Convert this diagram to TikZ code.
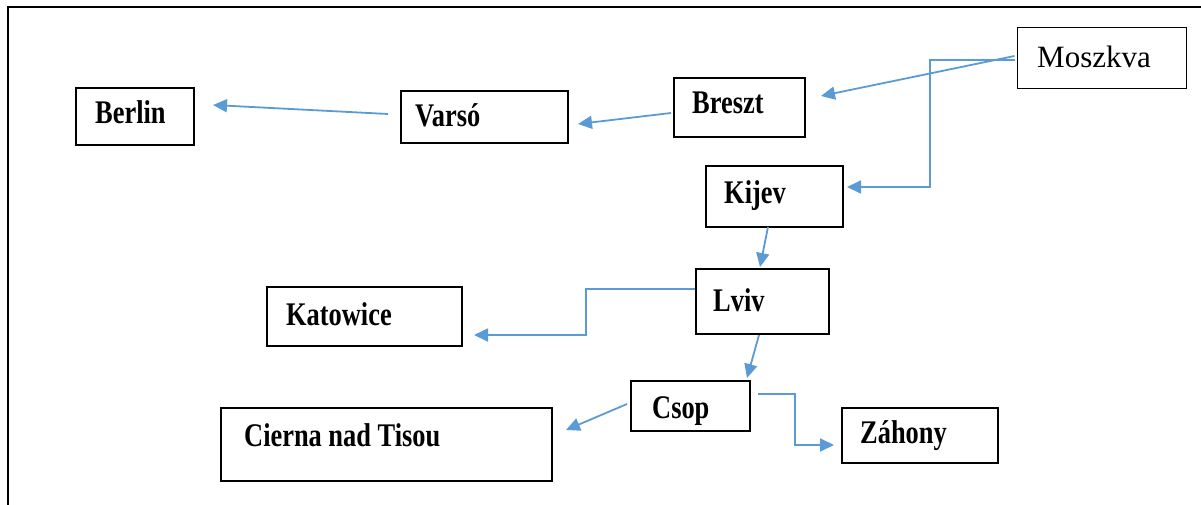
\documentclass[tikz,border=0pt]{standalone}
\usepackage{fontspec}
\newfontfamily\cityfont[FakeStretch=0.8]{Liberation Serif}
\newfontfamily\mosfont{Liberation Serif}
\usetikzlibrary{arrows.meta,calc}
\definecolor{linkblue}{HTML}{5B9BD5}
\tikzset{
  citybox/.style={draw=black, line width=2pt, inner sep=0pt, rectangle},
  thinbox/.style={draw=black, line width=1pt, inner sep=0pt, rectangle},
  citylabel/.style={anchor=base west, inner sep=0pt, font=\cityfont\bfseries\fontsize{33}{35}\selectfont},
  moslabel/.style={anchor=base west, inner sep=0pt, font=\mosfont\fontsize{31}{33}\selectfont},
  conn/.style={draw=linkblue, line width=1.8pt, -{Triangle[length=14pt,width=13pt]}},
  frame/.style={draw=black, line width=1.8pt}
}
\begin{document}
\begin{tikzpicture}[x=1pt,y=-1pt]
\useasboundingbox (0,0) rectangle (1201,505);
% outer frame
\coordinate (fbl) at (8,506);
\coordinate (ftl) at (8,7);
\coordinate (ftr) at (1202,7);
\draw[frame] (fbl) -- (ftl) -- (ftr);

% boxes
\node[citybox, minimum width=118pt, minimum height=57pt] (berlin) at (135,116.5) {};
\node[citybox, minimum width=167pt, minimum height=52pt] (varso) at (484.5,117) {};
\node[citybox, minimum width=131pt, minimum height=59pt] (breszt) at (739.5,107.5) {};
\node[thinbox, minimum width=169pt, minimum height=61pt] (moszkva) at (1101.5,58.5) {};
\node[citybox, minimum width=137pt, minimum height=61pt] (kijev) at (774.5,196.5) {};
\node[citybox, minimum width=133pt, minimum height=65pt] (lviv) at (762.5,301.5) {};
\node[citybox, minimum width=195pt, minimum height=59pt] (katowice) at (364.5,316.5) {};
\node[citybox, minimum width=119pt, minimum height=50pt] (csop) at (690.5,406) {};
\node[citybox, minimum width=156pt, minimum height=55pt] (zahony) at (920,435.5) {};
\node[citybox, minimum width=331pt, minimum height=73pt] (cierna) at (386.5,444.5) {};

% labels
\node[citylabel] (berlinT) at (95,124) {Berlin};
\node[citylabel] (varsoT) at (415,127) {Varsó};
\node[citylabel] (bresztT) at (692,114) {Breszt};
\node[moslabel] (moszkvaT) at (1037,68) {Moszkva};
\node[citylabel] (kijevT) at (724,204) {Kijev};
\node[citylabel] (lvivT) at (713,311) {Lviv};
\node[citylabel] (katowiceT) at (286,325) {Katowice};
\node[citylabel] (csopT) at (652,418) {Csop};
\node[citylabel] (ciernaT) at (244,446) {Cierna nad Tisou};
\node[citylabel] (zahonyT) at (860,443) {Záhony};

% connectors
\draw[conn] ($(moszkva.west)+(-2,-2.5)$) -- ($(breszt.east)+(15,-11.5)$);
\draw[conn] ($(moszkva.west)+(-2,1.5)$) -| ($(kijev.east)+(86,-9.5)$) -- ($(kijev.east)+(3,-9.5)$);
\draw[conn] ($(breszt.west)+(-2,5.5)$) -- ($(varso.east)+(9,7)$);
\draw[conn] ($(varso.west)+(-12,-3)$) -- ($(berlin.east)+(18,-11.5)$);
\draw[conn] ($(kijev.south)+(-6.5,-1)$) -- ($(lviv.north)+(-2.5,-1)$);
\draw[conn] ($(lviv.west)+(0,-12.5)$) -| ($(katowice.east)+(123,18.5)$) -- ($(katowice.east)+(11,18.5)$);
\draw[conn] ($(lviv.south)+(-3.5,0)$) -- ($(csop.north)+(56.5,-2)$);
\draw[conn] ($(csop.west)+(-3,-2)$) -- ($(cierna.east)+(13,-14.5)$);
\draw[conn] ($(csop.east)+(7,-12)$) -| ($(zahony.west)+(-46,9.5)$) -- ($(zahony.west)+(-7,9.5)$);
\end{tikzpicture}
\end{document}
